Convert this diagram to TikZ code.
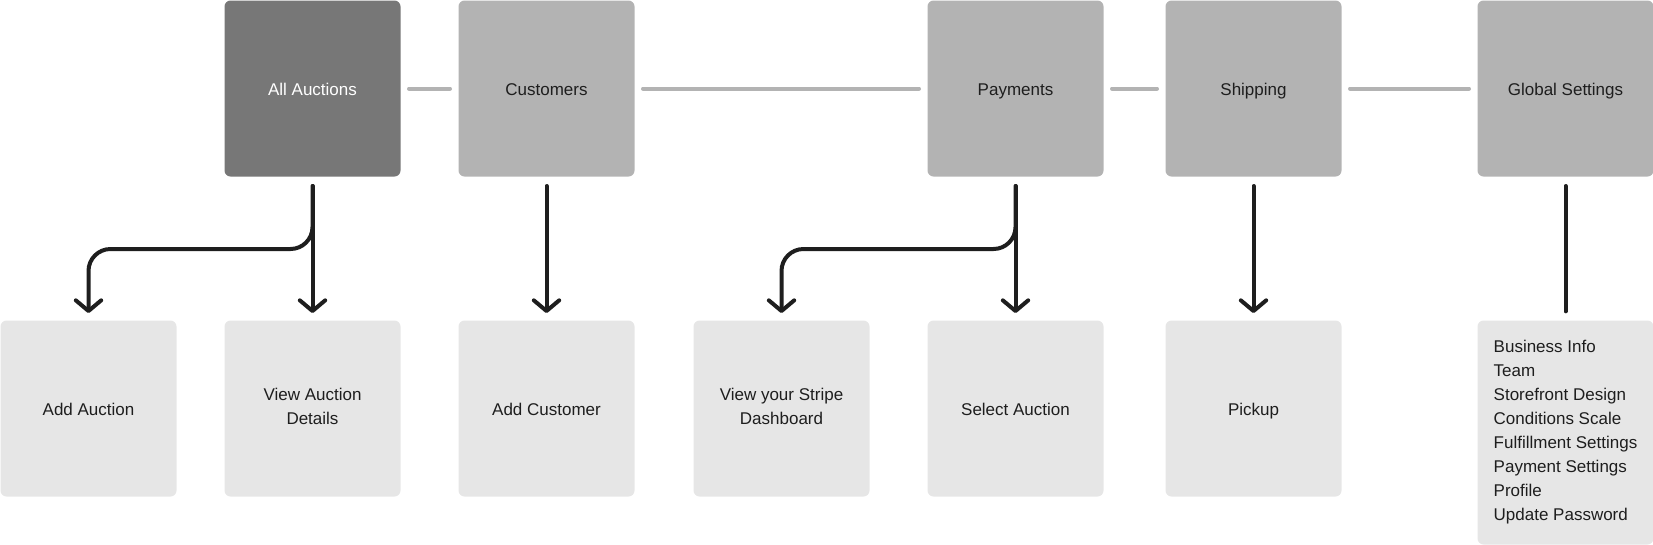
\documentclass[tikz,border=0pt]{standalone}
\usepackage{fontspec}
\setmainfont{Liberation Sans}
\usetikzlibrary{arrows.meta}

\definecolor{topgray}{HTML}{B3B3B3}
\definecolor{darkgray}{HTML}{777777}
\definecolor{lightgray}{HTML}{E6E6E6}
\definecolor{ink}{HTML}{1E1E1E}

\newcommand{\cardstrut}{\rule[-3.75pt]{0pt}{18pt}}

\tikzset{every picture/.style={line width=0.75pt},
  card/.style={rectangle, rounded corners=4.5pt, inner sep=0pt, draw=none,
    minimum width=132pt, minimum height=132pt, anchor=north west, text=ink,
    align=center, font=\fontsize{12.75pt}{18pt}\selectfont,
    execute at begin node=\cardstrut, execute at end node=\cardstrut},
  topcard/.style={card, fill=topgray},
  maincard/.style={card, fill=darkgray, text=white},
  subcard/.style={card, fill=lightgray},
  link/.style={draw=topgray, line width=3pt, line cap=round, shorten <=6pt, shorten >=6pt},
  flow/.style={draw=ink, line width=3pt, line cap=round, line join=round,
    shorten <=6.75pt, shorten >=5.25pt,
    -{Straight Barb[length=8pt,width=19pt,line cap=round,line join=round]}},
  plainflow/.style={draw=ink, line width=3pt, line cap=round, shorten <=6.75pt, shorten >=6.5pt}
}

\begin{document}
\begin{tikzpicture}[x=0.75pt,y=0.75pt,yscale=-1,xscale=1]
\useasboundingbox (0,0) rectangle (1653,544);

%Top row
\node[maincard] (allauctions) at (224,0) {All Auctions};
\node[topcard] (customers) at (458,0) {Customers};
\node[topcard] (payments) at (927,0) {Payments};
\node[topcard] (shipping) at (1165,0) {Shipping};
\node[topcard] (globalsettings) at (1477,0) {Global Settings};

%Bottom row
\node[subcard] (addauction) at (0,320) {Add Auction};
\node[subcard] (viewdetails) at (224,320) {View Auction\\Details};
\node[subcard] (addcustomer) at (458,320) {Add Customer};
\node[subcard] (stripe) at (693,320) {View your Stripe\\Dashboard};
\node[subcard] (selectauction) at (927,320) {Select Auction};
\node[subcard] (pickup) at (1165,320) {Pickup};
\node[subcard, minimum height=168pt, align=left] (settingslist) at (1477,320) {Business Info\\Team\\Storefront Design\\Conditions Scale\\Fulfillment Settings\\Payment Settings\\Profile\\Update Password};

%Links between top cards
\draw[link] (allauctions) -- (customers);
\draw[link] (customers) -- (payments);
\draw[link] (payments) -- (shipping);
\draw[link] (shipping) -- (globalsettings);

%Arrows down
\draw[flow, rounded corners=16.5pt] (allauctions.south) -- ++(0,72) -| (addauction.north);
\draw[flow] (allauctions) -- (viewdetails);
\draw[flow] (customers) -- (addcustomer);
\draw[flow, rounded corners=16.5pt] (payments.south) -- ++(0,72) -| (stripe.north);
\draw[flow] (payments) -- (selectauction);
\draw[flow] (shipping) -- (pickup);
\draw[plainflow] (globalsettings.south) -- (settingslist.north);

\end{tikzpicture}
\end{document}
